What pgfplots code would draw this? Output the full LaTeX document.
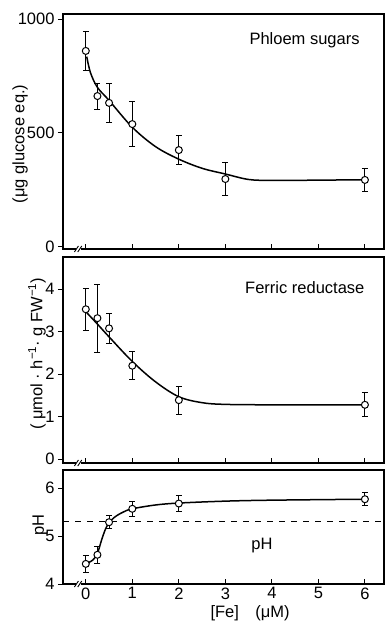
\documentclass[border=0pt]{standalone}
\usepackage{fontspec}
\setmainfont{Liberation Sans}
\usepackage{pgfplots}
\pgfplotsset{compat=1.18}
\pgfplotsset{
  panel/.style={
    scale only axis, width=321pt, xmin=-0.49, xmax=6.41,
    xtick={0,1,2,3,4,5,6}, xtick pos=bottom, ytick pos=left,
    xtick align=inside, ytick align=outside,
    major tick length=5pt,
    tick style={black, line width=1pt},
    axis line style={line width=1.3pt},
    clip=false,
    /pgf/number format/assume math mode=true,
    /pgf/number format/1000 sep={},
    tick label style={font=\fontsize{16.5}{18}\selectfont},
    label style={font=\fontsize{16.5}{18}\selectfont},
    anchor=south west,
  },
  dat/.style={only marks, mark=*, mark size=3.5pt, black, mark options={fill=white, line width=1pt},
    error bars/.cd, y dir=both, y explicit, error bar style={line width=0.9pt},
    error mark options={mark size=3pt, line width=0.9pt, rotate=90}},
  fit/.style={smooth, tension=0.55, line width=1.5pt, black, no marks},
}
\newcommand{\brk}[1]{%
  \draw[white, line width=4pt] (axis cs:-0.21,#1) -- (axis cs:-0.10,#1);
  \draw[line width=0.9pt] ([xshift=-2.5pt,yshift=-3pt]axis cs:-0.19,#1) -- ++(4pt,6pt);
  \draw[line width=0.9pt] ([xshift=-2.5pt,yshift=-3pt]axis cs:-0.12,#1) -- ++(4pt,6pt);
}
\begin{document}
\begin{tikzpicture}
\useasboundingbox (0,0) rectangle (388pt,624pt);
% Panel 1: phloem sugars
\begin{axis}[panel, at={(63pt,375pt)}, height=235pt,
  ymin=-9, ymax=1022, ytick={0,500,1000}, xticklabels={},
  ylabel={(μg glucose eq.)},
  ylabel style={at={(axis description cs:-0.134,0.447)}, anchor=center}]
\addplot[fit] coordinates {(0.02,835) (0.1,765) (0.25,700) (0.5,643) (1,525) (1.5,440) (2,385) (2.5,345) (3,320) (3.5,296) (4,292) (5,293) (6,295)};
\addplot[dat] table[x=x, y=y, y error=e] {
x y e
0 860 85
0.25 662 57
0.5 632 85
1 539 100
2 425 65
3 298 72
6 294 52
};
\node[anchor=east, font=\fontsize{16.5}{18}\selectfont] at (rel axis cs:0.935,0.889) {Phloem sugars};
\brk{-9}
\end{axis}
% Panel 2: ferric reductase
\begin{axis}[panel, at={(63pt,161pt)}, height=206pt,
  ymin=-0.09, ymax=4.76, ytick={0,1,2,3,4}, xticklabels={},
  ylabel={( μmol · h\textsuperscript{−1}· g FW\textsuperscript{−1})},
  ylabel style={at={(axis description cs:-0.081,0.53)}, anchor=center}]
\addplot[fit] coordinates {(0.02,3.45) (0.25,3.18) (0.5,2.88) (1,2.3) (1.5,1.82) (2,1.47) (2.5,1.33) (3,1.29) (4,1.28) (6,1.28)};
\addplot[dat] table[x=x, y=y, y error=e] {
x y e
0 3.53 0.5
0.25 3.32 0.8
0.5 3.08 0.35
1 2.2 0.33
2 1.39 0.33
6 1.28 0.28
};
\node[anchor=east, font=\fontsize{16.5}{18}\selectfont] at (rel axis cs:0.95,0.85) {Ferric reductase};
\brk{-0.09}
\end{axis}
% Panel 3: pH
\begin{axis}[panel, at={(63pt,40pt)}, height=114pt,
  ymin=4, ymax=6.38, ytick={4,5,6},
  ylabel={pH},
  ylabel style={at={(axis description cs:-0.072,0.52)}, anchor=center},
  xlabel={[Fe]\quad(μM)},
  xlabel style={at={(axis description cs:0.583,-0.254)}, anchor=center}]
\addplot[black, line width=0.8pt, dash pattern=on 6pt off 6pt] coordinates {(-0.49,5.3) (6.41,5.3)};
\addplot[fit] coordinates {(0,4.42) (0.15,4.5) (0.25,4.64) (0.35,4.95) (0.45,5.2) (0.6,5.38) (0.8,5.5) (1,5.57) (1.5,5.65) (2,5.69) (3,5.73) (4,5.75) (6,5.77)};
\addplot[dat] table[x=x, y=y, y error=e] {
x y e
0 4.42 0.18
0.25 4.61 0.18
0.5 5.29 0.14
1 5.57 0.16
2 5.68 0.16
6 5.77 0.14
};
\node[font=\fontsize{16.5}{18}\selectfont] at (rel axis cs:0.62,0.34) {pH};
\brk{4}
\end{axis}
\end{tikzpicture}
\end{document}
